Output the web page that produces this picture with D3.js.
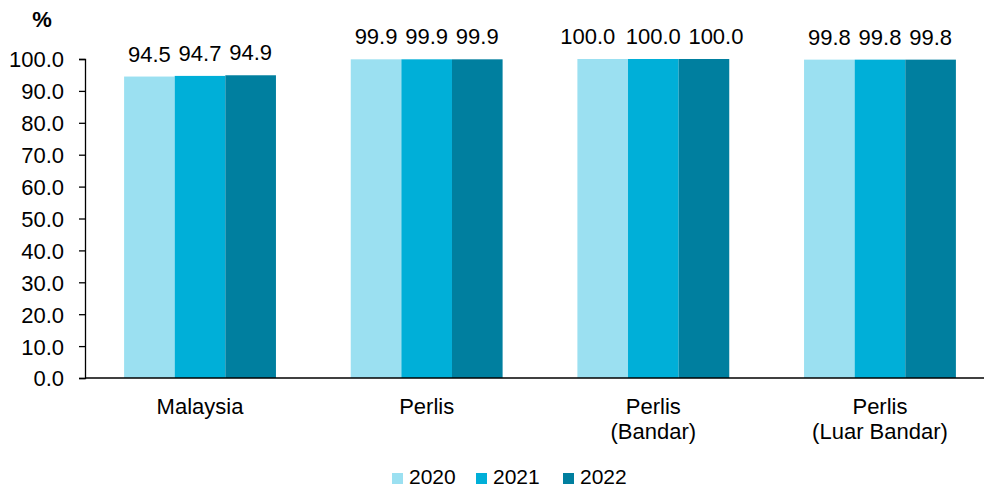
<!DOCTYPE html>
<html><head><meta charset="utf-8">
<script src="https://cdn.jsdelivr.net/npm/d3@7"></script>
<style>body{margin:0;background:#fff}svg{display:block}text{font-family:Arial,"Liberation Sans",sans-serif;fill:#000}</style>
</head><body><svg id="c" width="984" height="488"></svg>
<script>
const categories = [["Malaysia"], ["Perlis"], ["Perlis", "(Bandar)"], ["Perlis", "(Luar Bandar)"]];
const years = ["2020", "2021", "2022"];
const v2020 = [94.5, 99.9, 100.0, 99.8];
const v2021 = [94.7, 99.9, 100.0, 99.8];
const v2022 = [94.9, 99.9, 100.0, 99.8];
const yTicks = [0, 10, 20, 30, 40, 50, 60, 70, 80, 90, 100];
const colors = ["#9be0f1", "#00afd8", "#007f9f"];

const series = [v2020, v2021, v2022];
const svg = d3.select("#c");
const fs = 22;
const x0 = d3.scaleBand().domain(d3.range(categories.length)).range([86.7, 993.3]).paddingInner(0.33).paddingOuter(0.165);
const x1 = d3.scaleBand().domain(years).range([0, x0.bandwidth()]);
const y = d3.scaleLinear().domain([0, 100]).range([378, 59]);

// y axis
const ya = svg.append("g").attr("transform", "translate(85,0)")
  .call(d3.axisLeft(y).tickValues(yTicks).tickFormat(d3.format(".1f")).tickSizeOuter(0).tickSize(6));
ya.select(".domain").attr("stroke", "#000").attr("stroke-width", 1.3);
ya.selectAll(".tick line").attr("stroke", "#000").attr("stroke-width", 1.3);
ya.selectAll(".tick text").attr("font-size", fs).attr("x", -21).attr("dy", "0.36em").style("font-family", "Arial, 'Liberation Sans', sans-serif");

// bars
categories.forEach((c, i) => {
  const g = svg.append("g").attr("transform", `translate(${x0(i)},0)`);
  const labels = [];
  years.forEach((yr, k) => {
    const v = series[k][i];
    g.append("rect").attr("x", x1(yr)).attr("width", x1.bandwidth()).attr("y", y(v)).attr("height", y(0) - y(v)).attr("fill", colors[k]);
    labels.push(g.append("text").attr("x", x1(yr) + x1.bandwidth() / 2).attr("y", y(v) - 15).attr("text-anchor", "middle").attr("font-size", fs).text(v.toFixed(1)));
  });
  // spread labels that are wider than their bar (avoid overlap)
  const w = d3.max(labels, t => t.node().getComputedTextLength());
  if (w > x1.bandwidth() - 4) {
    labels[0].attr("x", +labels[0].attr("x") - 15);
    labels[2].attr("x", +labels[2].attr("x") + 12);
  }
  const t = svg.append("text").attr("text-anchor", "middle").attr("font-size", fs);
  c.forEach((line, j) => t.append("tspan").attr("x", x0(i) + x0.bandwidth() / 2).attr("y", 414 + j * 25).text(line));
});

// x axis line
svg.append("line").attr("x1", 85).attr("x2", 984).attr("y1", y(0)).attr("y2", y(0)).attr("stroke", "#000").attr("stroke-width", 1.3);

// unit
svg.append("text").attr("x", 42).attr("y", 27).attr("text-anchor", "middle").attr("font-size", 22).attr("font-weight", "bold").text("%");

// legend
const lx = [392, 476, 563];
years.forEach((yr, k) => {
  svg.append("rect").attr("x", lx[k]).attr("y", 473).attr("width", 11).attr("height", 11).attr("fill", colors[k]);
  svg.append("text").attr("x", lx[k] + 17).attr("y", 483.5).attr("font-size", 21).text(yr);
});
</script></body></html>
